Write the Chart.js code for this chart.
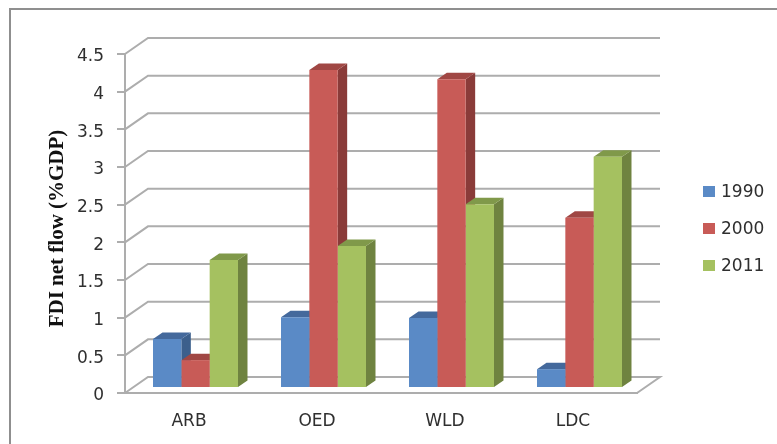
<!DOCTYPE html>
<html>
<head>
<meta charset="utf-8">
<title>FDI net flow</title>
<script src="https://cdn.jsdelivr.net/npm/chart.js@4"></script>
<style>
  html, body { margin: 0; padding: 0; background: #fff; overflow: hidden; }
  canvas { display: block; }
</style>
</head>
<body>
<canvas id="chart" width="777" height="444"></canvas>
<script>
const categories = ["ARB", "OED", "WLD", "LDC"]
const values1990 = [0.65, 0.94, 0.93, 0.25]
const values2000 = [0.37, 4.22, 4.10, 2.26]
const values2011 = [1.70, 1.885, 2.44, 3.07]
const yTicks = [0, 0.5, 1, 1.5, 2, 2.5, 3, 3.5, 4, 4.5]
const axisTitle = "FDI net flow (%GDP)"

const gridColor = "#adadad"
const textColor = "#2f2f2f"
const tickFont = { family: "'DejaVu Sans'", size: 17 }

// depth of the back wall, and of each bar, in pixels
const wall = { dx: 23, dy: -16 }
const barShift = { dx: 6.5, dy: -5 }
const barDepth = { dx: 9.5, dy: -6.5 }

function poly(ctx, color, points) {
  ctx.fillStyle = color
  ctx.beginPath()
  points.forEach(([x, y], i) => i ? ctx.lineTo(x, y) : ctx.moveTo(x, y))
  ctx.closePath()
  ctx.fill()
}

const frame = {
  id: "frame",
  beforeDraw(chart) {
    const { ctx } = chart
    ctx.save()
    ctx.strokeStyle = "#8f8f8f"
    ctx.lineWidth = 2
    ctx.beginPath()
    ctx.moveTo(10, 444)
    ctx.lineTo(10, 9)
    ctx.lineTo(777, 9)
    ctx.stroke()
    ctx.restore()
  }
}

// floor and back wall lines, one per y tick
const walls = {
  id: "walls",
  beforeDatasetsDraw(chart) {
    const { ctx, chartArea, scales } = chart
    ctx.save()
    ctx.strokeStyle = gridColor
    ctx.lineWidth = 2
    yTicks.forEach(t => {
      const y = scales.y.getPixelForValue(t)
      ctx.beginPath()
      ctx.moveTo(chartArea.left, y)
      ctx.lineTo(chartArea.left + wall.dx, y + wall.dy)
      ctx.lineTo(chartArea.right + wall.dx, y + wall.dy)
      if (t === 0) ctx.lineTo(chartArea.right, y)
      ctx.stroke()
    })
    ctx.restore()
  }
}

// bar top and side faces go under the fronts that Chart.js draws
const bars3d = {
  id: "bars3d",
  beforeDatasetsDraw(chart) {
    const { ctx } = chart
    ctx.save()
    ctx.translate(barShift.dx, barShift.dy)
    const { dx, dy } = barDepth
    categories.forEach((_, i) => {
      chart.data.datasets.forEach((ds, d) => {
        const bar = chart.getDatasetMeta(d).data[i]
        const left = bar.x - bar.width / 2
        const right = bar.x + bar.width / 2
        poly(ctx, ds.sideColor, [[right, bar.y], [right + dx, bar.y + dy], [right + dx, bar.base + dy], [right, bar.base]])
        poly(ctx, ds.topColor, [[left, bar.y], [left + dx, bar.y + dy], [right + dx, bar.y + dy], [right, bar.y]])
      })
    })
  },
  afterDatasetsDraw(chart) {
    chart.ctx.restore()
  }
}

const sideLabels = {
  id: "sideLabels",
  afterDraw(chart) {
    const { ctx } = chart
    ctx.save()
    ctx.textBaseline = "middle"
    ctx.font = "17px 'DejaVu Sans'"
    chart.data.datasets.forEach((ds, d) => {
      const y = 191.5 + d * 37
      ctx.fillStyle = ds.backgroundColor
      ctx.fillRect(703, y - 5.5, 12, 11)
      ctx.fillStyle = textColor
      ctx.fillText(ds.label, 721, y + 1)
    })
    ctx.translate(58, 228.5)
    ctx.rotate(-Math.PI / 2)
    ctx.scale(1.05, 1)
    ctx.textAlign = "center"
    ctx.fillStyle = "#111"
    ctx.font = "bold 20px 'Liberation Serif'"
    ctx.fillText(axisTitle, 0, 0)
    ctx.restore()
  }
}

new Chart(document.getElementById("chart"), {
  type: "bar",
  data: {
    labels: categories,
    datasets: [
      { label: "1990", data: values1990, backgroundColor: "#5a8ac6", sideColor: "#3c5f8c", topColor: "#44699c" },
      { label: "2000", data: values2000, backgroundColor: "#c85b57", sideColor: "#8a3b39", topColor: "#a04744" },
      { label: "2011", data: values2011, backgroundColor: "#a5c160", sideColor: "#6f8340", topColor: "#80994a" }
    ]
  },
  options: {
    responsive: false,
    animation: false,
    layout: { padding: { top: 54, right: 140, bottom: 0, left: 0 } },
    datasets: { bar: { barPercentage: 1, categoryPercentage: 0.664, clip: false } },
    plugins: { legend: { display: false }, tooltip: { enabled: false } },
    scales: {
      x: {
        grid: { display: false },
        border: { color: gridColor, width: 2 },
        ticks: { color: textColor, font: tickFont, padding: 10, maxRotation: 0 },
        afterFit(scale) { scale.height = 51 }
      },
      y: {
        min: 0,
        max: 4.5,
        afterBuildTicks(scale) { scale.ticks = yTicks.map(value => ({ value })) },
        grid: { drawOnChartArea: false, drawTicks: true, tickLength: 8, color: gridColor, lineWidth: 2 },
        border: { color: gridColor, width: 2 },
        ticks: { color: textColor, font: tickFont, padding: 13, labelOffset: 3, callback: v => String(v) },
        afterFit(scale) { scale.width = 125 }
      }
    }
  },
  plugins: [frame, walls, bars3d, sideLabels]
})
</script>
</body>
</html>
